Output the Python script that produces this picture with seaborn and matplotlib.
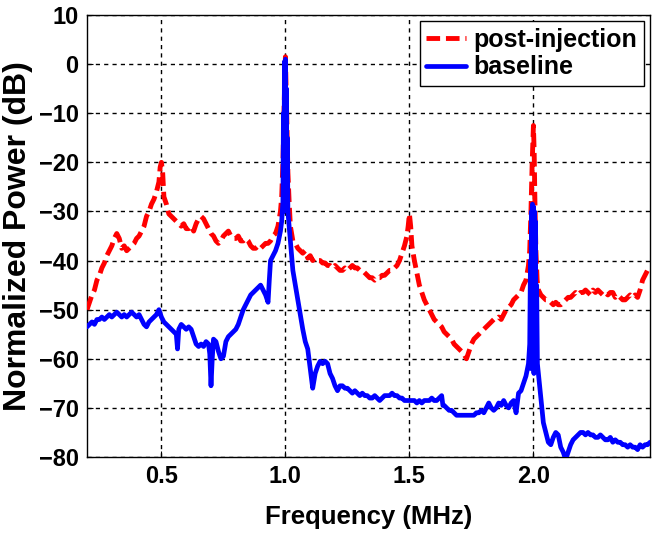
import numpy as np
import pandas as pd
import matplotlib
matplotlib.use("Agg")
import matplotlib.pyplot as plt
import seaborn as sns

# ---------------- data ----------------
post_freq = [0.20, 0.21, 0.22, 0.23, 0.24, 0.25, 0.26, 0.27, 0.28, 0.29, 0.30, 0.31, 0.32, 0.33, 0.34,
             0.35, 0.36, 0.37, 0.38, 0.39, 0.40, 0.41, 0.42, 0.43, 0.44, 0.45, 0.46, 0.47, 0.48, 0.49,
             0.495, 0.50, 0.505, 0.51, 0.52, 0.53, 0.54, 0.55, 0.56, 0.57, 0.58, 0.59, 0.60, 0.61, 0.62,
             0.63, 0.64, 0.65, 0.66, 0.67, 0.68, 0.69, 0.70, 0.71, 0.72, 0.73, 0.74, 0.75, 0.76, 0.77,
             0.78, 0.79, 0.80, 0.81, 0.82, 0.83, 0.84, 0.85, 0.86, 0.87, 0.88, 0.89, 0.90, 0.91, 0.92,
             0.93, 0.94, 0.95, 0.96, 0.97, 0.98, 0.985, 0.99, 0.995, 1.00, 1.003, 1.006, 1.01, 1.015, 1.02,
             1.03, 1.04, 1.05, 1.06, 1.07, 1.08, 1.09, 1.10, 1.11, 1.12, 1.13, 1.14, 1.15, 1.16, 1.17,
             1.18, 1.19, 1.20, 1.21, 1.22, 1.23, 1.24, 1.25, 1.26, 1.27, 1.28, 1.29, 1.30, 1.31, 1.32,
             1.33, 1.34, 1.35, 1.36, 1.37, 1.38, 1.39, 1.40, 1.41, 1.42, 1.43, 1.44, 1.45, 1.46, 1.47,
             1.48, 1.49, 1.495, 1.50, 1.505, 1.51, 1.52, 1.53, 1.54, 1.55, 1.56, 1.57, 1.58, 1.59, 1.60,
             1.61, 1.62, 1.63, 1.64, 1.65, 1.66, 1.67, 1.68, 1.69, 1.70, 1.71, 1.72, 1.73, 1.74, 1.75,
             1.76, 1.77, 1.78, 1.79, 1.80, 1.81, 1.82, 1.83, 1.84, 1.85, 1.86, 1.87, 1.88, 1.89, 1.90,
             1.91, 1.92, 1.93, 1.94, 1.95, 1.96, 1.97, 1.98, 1.985, 1.99, 1.995, 2.00, 2.003, 2.006, 2.01,
             2.015, 2.02, 2.03, 2.04, 2.05, 2.06, 2.07, 2.08, 2.09, 2.10, 2.11, 2.12, 2.13, 2.14, 2.15,
             2.16, 2.17, 2.18, 2.19, 2.20, 2.21, 2.22, 2.23, 2.24, 2.25, 2.26, 2.27, 2.28, 2.29, 2.30,
             2.31, 2.32, 2.33, 2.34, 2.35, 2.36, 2.37, 2.38, 2.39, 2.40, 2.41, 2.42, 2.43, 2.44, 2.45,
             2.46, 2.47]
post_power = [-50, -48.5, -47, -46, -44, -43, -41.5, -40.5, -39, -38, -37, -35.5, -34.5, -35.5, -37.5,
              -37, -38, -37.5, -37, -36.5, -35.5, -35, -34, -33, -31, -30, -28.5, -27.5, -26, -24,
              -21, -20, -22, -27, -28.5, -30.5, -31, -31.5, -32, -32.5, -33, -32.5, -33.5, -33.5, -33,
              -34, -32.5, -31.5, -31, -31.5, -32.5, -33.5, -34.5, -35, -36, -36.5, -36, -35, -34.5, -34,
              -35, -35.5, -35.5, -35, -36, -36, -35.5, -36, -37, -37.5, -37.5, -37, -37.5, -37, -36.5,
              -36.5, -36, -35, -34.5, -33, -30, -27, -20, -8, 1.5, -5, -12, -22, -28, -33,
              -36, -36.5, -37.5, -38, -38.5, -38, -39.5, -39, -40, -39.5, -40, -40, -40.5, -40.5, -41,
              -41, -41.5, -41, -41.5, -42, -42, -41.5, -42, -41.5, -41, -41.5, -41.5, -42, -42, -42.5,
              -43, -43.5, -43.5, -44, -43.5, -43.5, -43, -43, -42.5, -42, -42, -41.5, -41, -40, -38.5,
              -37, -35, -33, -30.5, -33, -37, -40, -42.5, -45, -46.5, -48, -49, -50, -51, -52,
              -52.5, -53, -53.5, -54.5, -55, -55.5, -56, -57, -57.5, -58, -58.5, -59, -60, -58.5, -57,
              -56, -55.5, -55, -54.5, -54, -53.5, -53, -52.5, -52, -52, -51.5, -52, -51, -50, -49.5,
              -49, -48, -47.5, -47, -46.5, -45, -44, -41, -38, -30, -20, -12.5, -18, -28, -38,
              -44, -46, -47, -47.5, -48, -48, -48.5, -49, -48.5, -49, -49, -48.5, -48, -47.5, -47.5,
              -47, -46.5, -47, -46.5, -46.5, -46, -46.5, -47, -46, -46.5, -46, -46.5, -47, -46.5, -47,
              -46.5, -46.5, -47.5, -47, -47.5, -48, -48, -47.5, -47, -47.5, -47, -47.5, -46, -44, -43,
              -42, -41.5]

base_freq = [0.20, 0.21, 0.22, 0.23, 0.24, 0.25, 0.26, 0.27, 0.28, 0.29, 0.30, 0.31, 0.32, 0.33, 0.34,
             0.35, 0.36, 0.37, 0.38, 0.39, 0.40, 0.41, 0.42, 0.43, 0.44, 0.45, 0.46, 0.47, 0.48, 0.49,
             0.50, 0.51, 0.52, 0.53, 0.54, 0.55, 0.56, 0.565, 0.57, 0.58, 0.59, 0.60, 0.61, 0.62, 0.63,
             0.64, 0.65, 0.66, 0.67, 0.68, 0.69, 0.695, 0.70, 0.705, 0.71, 0.72, 0.73, 0.74, 0.75, 0.76,
             0.77, 0.78, 0.79, 0.80, 0.81, 0.82, 0.83, 0.84, 0.85, 0.86, 0.87, 0.88, 0.89, 0.90, 0.91,
             0.92, 0.93, 0.935, 0.94, 0.95, 0.96, 0.97, 0.98, 0.985, 0.99, 0.992, 0.994, 0.996, 0.998, 1.000,
             1.002, 1.004, 1.006, 1.008, 1.01, 1.015, 1.02, 1.03, 1.04, 1.05, 1.06, 1.07, 1.08, 1.09, 1.10,
             1.11, 1.12, 1.13, 1.14, 1.15, 1.16, 1.17, 1.18, 1.19, 1.20, 1.21, 1.22, 1.23, 1.24, 1.25,
             1.26, 1.27, 1.28, 1.29, 1.30, 1.31, 1.32, 1.33, 1.34, 1.35, 1.36, 1.37, 1.38, 1.39, 1.40,
             1.41, 1.42, 1.43, 1.44, 1.45, 1.46, 1.47, 1.48, 1.49, 1.50, 1.51, 1.52, 1.53, 1.54, 1.55,
             1.56, 1.57, 1.58, 1.59, 1.60, 1.61, 1.62, 1.63, 1.635, 1.64, 1.65, 1.66, 1.67, 1.68, 1.69,
             1.70, 1.71, 1.72, 1.73, 1.74, 1.75, 1.76, 1.77, 1.78, 1.79, 1.80, 1.81, 1.82, 1.83, 1.84,
             1.85, 1.86, 1.87, 1.88, 1.89, 1.90, 1.91, 1.92, 1.93, 1.94, 1.95, 1.96, 1.97, 1.98, 1.985,
             1.988, 1.990, 1.992, 1.994, 1.996, 1.998, 2.000, 2.002, 2.004, 2.006, 2.008, 2.010, 2.013, 2.016, 2.02,
             2.03, 2.04, 2.05, 2.06, 2.07, 2.08, 2.09, 2.10, 2.11, 2.12, 2.13, 2.14, 2.15, 2.16, 2.17,
             2.18, 2.19, 2.20, 2.21, 2.22, 2.23, 2.24, 2.25, 2.26, 2.27, 2.28, 2.29, 2.30, 2.31, 2.32,
             2.33, 2.34, 2.35, 2.36, 2.37, 2.38, 2.39, 2.40, 2.41, 2.42, 2.43, 2.44, 2.45, 2.46, 2.47]
base_power = [-53.5, -53, -52.5, -53, -52, -52, -51.5, -52, -51.5, -51, -51.5, -51, -50.5, -51, -51.5,
              -51, -51.5, -51, -50.5, -51, -51.5, -51, -52, -53, -53.5, -52.5, -52, -51.5, -51, -50,
              -51.5, -52.5, -53, -53.5, -54, -54.5, -55, -58, -54, -53, -53.5, -54, -53.5, -54, -55.5,
              -57, -57.5, -57, -57.5, -56.5, -57, -59, -65.5, -60, -56, -56.5, -58.5, -60, -59.5, -56.5,
              -55.5, -55, -54.5, -54, -53, -51.5, -50, -49, -48, -47, -46.5, -46, -45.5, -45, -46,
              -47, -48.5, -44, -40, -39, -38, -36.5, -34, -32, -28, -10, -30, 0.5, -25, 1,
              -20, -5, -28, -15, -30, -33, -36, -42, -45, -48, -51, -54, -56.5, -58, -62,
              -66, -63, -61.5, -60.5, -61, -60.5, -61, -63, -64, -65.5, -66.5, -65.5, -65.5, -66, -66,
              -66.5, -67, -66.5, -67, -67.5, -67, -67.5, -67.5, -68, -68, -67.5, -68, -68.5, -68, -67.5,
              -67.5, -67.5, -67, -67.5, -67.5, -68, -68, -68.5, -68.5, -68.5, -68.5, -68.5, -69, -68.5, -69,
              -68.5, -68.5, -68.5, -68, -68.5, -68.5, -68, -67.5, -69.5, -69.5, -70, -70.5, -70.5, -71, -71.5,
              -71.5, -71.5, -71.5, -71.5, -71.5, -71.5, -71.5, -71, -71, -70.5, -71, -70, -69, -70, -70.5,
              -70, -69, -69.5, -68.5, -69.5, -70, -69, -68.5, -71, -67, -66.5, -65, -63.5, -61, -57,
              -40, -62, -30, -60, -28.5, -62, -29, -63, -30, -61, -32, -60, -45, -61, -63,
              -68, -73, -75, -77, -77.5, -76, -75, -75.5, -78, -79, -80.5, -79, -77.5, -76.5, -76,
              -75.5, -75, -75, -75.5, -75, -75.5, -75.5, -76, -76, -75.5, -76, -76.5, -76.5, -76, -77,
              -76.5, -77, -77, -77.5, -77.5, -78, -77.5, -78, -78, -78.5, -77.5, -78, -77.5, -77.5, -77]

series_labels = ["post-injection", "baseline"]
x_ticks = [0.5, 1.0, 1.5, 2.0]
x_tick_labels = ["0.5", "1.0", "1.5", "2.0"]
y_ticks = [-80, -70, -60, -50, -40, -30, -20, -10, 0, 10]

# ---------------- styling ----------------
sns.set_style("ticks")
plt.rcParams["font.family"] = ["Liberation Sans", "DejaVu Sans"]
plt.rcParams["font.weight"] = "bold"
plt.rcParams["axes.labelcolor"] = "black"
plt.rcParams["text.color"] = "black"

fig = plt.figure(figsize=(6.58, 5.36), dpi=100)
ax = fig.add_axes([87 / 658, 1 - 457 / 536, (650 - 87) / 658, (457 - 15) / 536])

df_post = pd.DataFrame({"freq": post_freq, "power": post_power})
df_base = pd.DataFrame({"freq": base_freq, "power": base_power})

sns.lineplot(data=df_post, x="freq", y="power", ax=ax, color="#ff0000",
             linewidth=3.5, linestyle=(0, (2.8, 1.2)), estimator=None,
             label=series_labels[0], zorder=3)
sns.lineplot(data=df_base, x="freq", y="power", ax=ax, color="#0000ff",
             linewidth=3.4, estimator=None, label=series_labels[1], zorder=4)

ax.set_xlim(0.2, 2.47)
ax.set_ylim(-80, 10)
ax.set_xticks(x_ticks)
ax.set_xticklabels(x_tick_labels)
ax.set_yticks(y_ticks)
ax.grid(True, color="black", linestyle=(0, (3, 3)), linewidth=1.0)
ax.set_axisbelow(True)
for s in ax.spines.values():
    s.set_color("black")
    s.set_linewidth(1.0)
ax.tick_params(axis="both", direction="in", length=4, width=0.8, labelsize=17,
               colors="black", pad=6)
for lab in ax.get_xticklabels() + ax.get_yticklabels():
    lab.set_fontweight("bold")

ax.set_xlabel("Frequency (MHz)", fontsize=18.5, fontweight="bold", labelpad=12, color="black")
ax.set_ylabel("Normalized Power (dB)", fontsize=23, fontweight="bold", labelpad=4, color="black")

leg = ax.legend(loc="upper right", fontsize=18, frameon=True, fancybox=False,
                handlelength=1.6, handletextpad=0.3, borderpad=0.25, labelspacing=0.15,
                borderaxespad=0.25)
leg.get_frame().set_edgecolor("black")
leg.get_frame().set_linewidth(1.0)
leg.get_frame().set_alpha(1)
for t in leg.get_texts():
    t.set_fontweight("bold")
    t.set_color("black")

fig.savefig("out.png", dpi=100)
